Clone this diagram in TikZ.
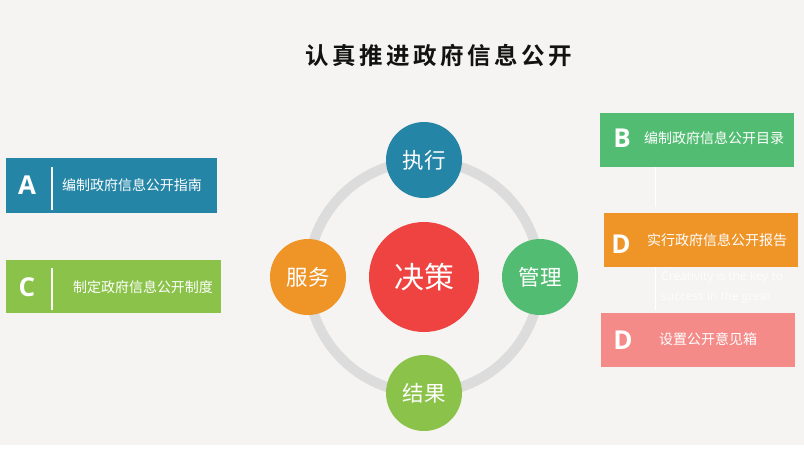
\documentclass[tikz,border=0pt]{standalone}
\usepackage{fontspec}
\setmainfont{Noto Sans CJK SC}
\newfontfamily\cjk{Noto Sans CJK SC}
\newfontfamily\titlefont[LetterSpace=15,BoldFont={* Bold}]{Noto Sans CJK SC}
\newfontfamily\letterfont{Open Sans}
\newfontfamily\latinfont{Open Sans}
\definecolor{bgc}{HTML}{F5F4F2}
\definecolor{cblue}{HTML}{2585A7}
\definecolor{cgreen}{HTML}{52BD72}
\definecolor{corange}{HTML}{EF9528}
\definecolor{cred}{HTML}{EE4340}
\definecolor{clime}{HTML}{8BC34A}
\definecolor{cpink}{HTML}{F48B88}
\definecolor{cring}{HTML}{DCDCDC}
\definecolor{cfaint}{HTML}{FDFDFD}
\tikzset{
  bar/.style={rectangle, inner sep=0pt, minimum height=54, minimum width=194},
  letter/.style={text=white, inner sep=0pt, font=\letterfont\bfseries\fontsize{26}{30}\selectfont},
  boxtext/.style={text=white, inner sep=0pt, font=\cjk\fontsize{14}{16}\selectfont},
  divider/.style={draw=white, line width=1.2pt},
  faintline/.style={draw=white, line width=1pt},
  ball/.style={circle, inner sep=0pt, minimum size=76, text=white, font=\cjk\fontsize{21.5}{24}\selectfont},
  ring/.style={draw=cring, line width=10pt}
}
\begin{document}
\begin{tikzpicture}[x=1pt,y=-1pt]
\fill[bgc] (0,0) rectangle (804,445);
\fill[white] (0,445) rectangle (804,456);
\useasboundingbox (0,0) rectangle (804,456);

% title
\node[inner sep=0pt, text=black!93, font=\titlefont\bfseries\fontsize{23.5}{26}\selectfont] (title) at (439,55) {认真推进政府信息公开};

% central cycle
\node[inner sep=0pt, minimum size=232, circle] (ringc) at (424,277) {};
\draw[ring] (ringc.center) circle (116);
\node[circle, inner sep=0pt, minimum size=110, fill=cred, text=white, font=\cjk\fontsize{30}{34}\selectfont] (main) at (424,277) {决策};
\node[ball, fill=cblue] (exec) at (424,160) {执行};
\node[ball, fill=corange] (serv) at (308,277) {服务};
\node[ball, fill=cgreen] (mgmt) at (540,277) {管理};
\node[ball, fill=clime] (result) at (424,393) {结果};

% left bars
\node[bar, fill=cblue, minimum width=211, minimum height=55] (boxA) at (111.5,185.5) {};
\node[letter] (letA) at (27,185) {A};
\coordinate (divAt) at (52,167);
\coordinate (divAb) at (52,210);
\draw[divider] (divAt) -- (divAb);
\node[boxtext] (txtA) at (132,185) {编制政府信息公开指南};

\node[bar, fill=clime, minimum width=215, minimum height=53] (boxC) at (113.5,286.5) {};
\node[letter] (letC) at (27,287) {C};
\coordinate (divCt) at (52,268);
\coordinate (divCb) at (52,310);
\draw[divider] (divCt) -- (divCb);
\node[boxtext] (txtC) at (143,287) {制定政府信息公开制度};

% right bars
\node[bar, fill=cgreen] (boxB) at (697,140) {};
\node[letter] (letB) at (622,138) {B};
\node[boxtext] (txtB) at (714,138) {编制政府信息公开目录};

\node[bar, fill=corange] (boxD) at (701,240) {};
\node[letter] (letD) at (621,244) {D};
\node[boxtext] (txtD) at (717,240) {实行政府信息公开报告};

\node[bar, fill=cpink] (boxE) at (698,340) {};
\node[letter] (letE) at (623,340) {D};
\node[boxtext] (txtE) at (708,339) {设置公开意见箱};

% faint connectors
\coordinate (fl1a) at (655,167);
\coordinate (fl1b) at (655,207);
\coordinate (fl2a) at (655,267);
\coordinate (fl2b) at (655,310);
\draw[faintline] (fl1a) -- (fl1b);
\draw[faintline] (fl2a) -- (fl2b);

\node[anchor=west, inner sep=0pt, text=cfaint, align=left, font=\latinfont\fontsize{12}{20}\selectfont] (note) at (661,287) {Creativity is the key to\\success in the great};
\end{tikzpicture}
\end{document}
